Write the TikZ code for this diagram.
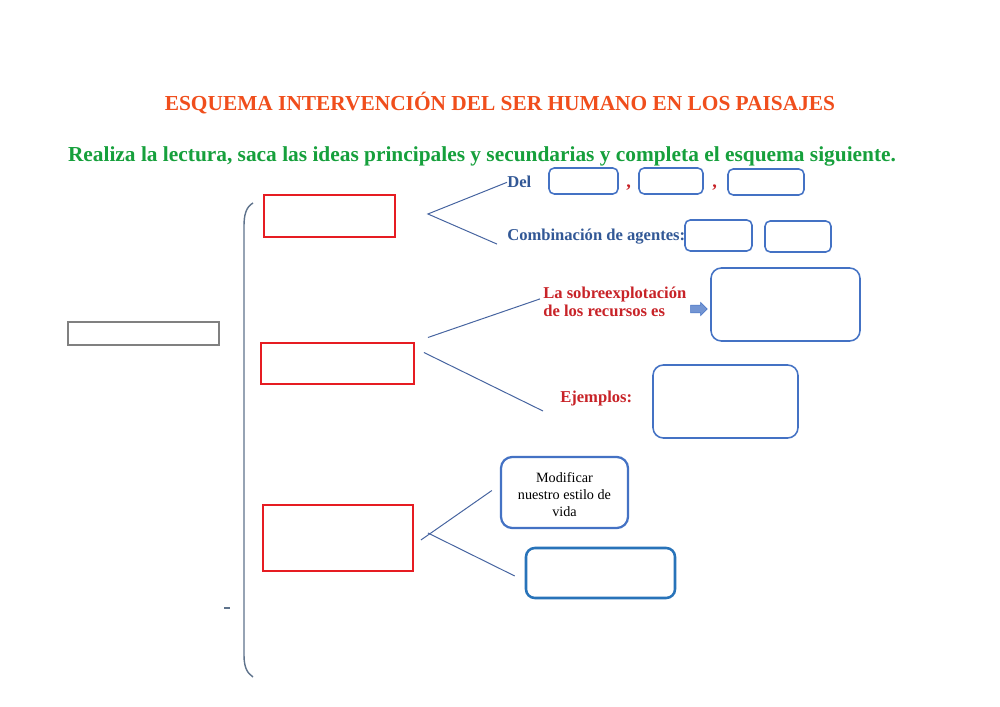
\documentclass[tikz,border=0pt]{standalone}
\usepackage{fontspec}
\setmainfont{Liberation Serif}
\usetikzlibrary{fit,calc,shapes.arrows}

\definecolor{titleorange}{RGB}{240,78,28}
\definecolor{titlegreen}{RGB}{22,160,60}
\definecolor{textblue}{RGB}{50,88,150}
\definecolor{textred}{RGB}{200,35,40}
\definecolor{boxred}{RGB}{230,28,34}
\definecolor{boxblue}{RGB}{68,114,196}
\definecolor{deepblue}{RGB}{40,115,185}
\definecolor{linkblue}{RGB}{70,100,160}
\definecolor{bracegray}{RGB}{95,115,140}

\begin{document}
\begin{tikzpicture}[x=0.25mm,y=-0.25mm,
    redbox/.style={draw=boxred, line width=1.3pt, inner sep=0pt},
    bluebox/.style={draw=boxblue, line width=1.1pt, rounded corners=1.3mm, inner sep=0pt},
    bigbox/.style={bluebox, rounded corners=2.6mm},
    link/.style={draw=linkblue, line width=0.7pt},
    lbl/.style={font=\fontsize{11.8}{13}\selectfont\bfseries, inner sep=0pt, anchor=base west}]
    \useasboundingbox[fill=white] (0,0) rectangle (1000,707);
    % Headings
    \node[anchor=base, text=titleorange, font=\fontsize{15.2}{17}\selectfont\bfseries] (title) at (500,111)
      {ESQUEMA INTERVENCIÓN DEL SER HUMANO EN LOS PAISAJES};
    \node[anchor=base, text=titlegreen, font=\fontsize{15.2}{17}\selectfont\bfseries] (task) at (482,162)
      {Realiza la lectura, saca las ideas principales y secundarias y completa el esquema siguiente.};
    % Main box and brace
    \node[draw=gray, line width=0.9pt, inner sep=0pt, fit={(68,322) (219,345)}] (main) {};
    \draw[bracegray, line width=1pt] (253,203) .. controls (246,207) and (244,215) .. (244,226)
      -- (244,655) .. controls (244,667) and (247,673) .. (253,677);
    \draw[bracegray, line width=0.9pt] (224,608) -- (230,608);
    % Red boxes
    \node[redbox, fit={(264,195) (395,237)}] (r1) {};
    \node[redbox, fit={(261,343) (414,384)}] (r2) {};
    \node[redbox, fit={(263,505) (413,571)}] (r3) {};
    % First branch
    \node[lbl, text=textblue] (del) at (507,188) {Del};
    \node[bluebox, fit={(549,168) (618,194)}] (d1) {};
    \node[bluebox, fit={(639,168) (703,194)}] (d2) {};
    \node[bluebox, fit={(728,169) (804,195)}] (d3) {};
    \node[lbl, text=textred, font=\fontsize{13}{14}\selectfont\bfseries] (c1) at (626,188) {,};
    \node[lbl, text=textred, font=\fontsize{13}{14}\selectfont\bfseries] (c2) at (712,188) {,};
    \node[lbl, text=textblue] (comb) at (507,241) {Combinación de agentes:};
    \node[bluebox, fit={(685,220) (752,251)}] (a1) {};
    \node[bluebox, fit={(765,221) (831,252)}] (a2) {};
    \coordinate (f1) at ($(r1.east)+(32,-2)$);
    \coordinate (e1) at ($(comb.west)+(-10,7)$);
    \draw[link] (del.west) -- (f1) -- (e1);
    % Second branch
    \node[lbl, text=textred, align=left, font=\fontsize{11.8}{13}\selectfont\bfseries] (sobre) at (543,317)
      {La sobreexplotación\\de los recursos es};
    \node[single arrow, draw=boxblue, fill=boxblue!75, line width=0.4pt, inner sep=0.9mm,
      minimum height=4.2mm, single arrow head extend=0.7mm] (arr) at (697,309) {};
    \node[bigbox, fit={(711,268) (860,341)}] (s1) {};
    \node[lbl, text=textred] (ejem) at (560,403) {Ejemplos:};
    \node[bigbox, fit={(653,365) (798,438)}] (ej1) {};
    \coordinate (f2a) at ($(r2.east)+(13,-26)$);
    \coordinate (f2b) at ($(r2.east)+(9,-11)$);
    \coordinate (e2) at ($(ejem.west)+(-17,12)$);
    \draw[link] (f2a) -- ($(sobre.north west)+(-3,12)$);
    \draw[link] (f2b) -- (e2);
    % Third branch
    \node[bluebox, line width=1.6pt, rounded corners=2.8mm, fit={(501,457) (628,528)}] (mod) {};
    \node[align=center, inner sep=0pt, font=\fontsize{10.1}{12.2}\selectfont] (modtext)
      at ($(mod.center)+(0,2)$) {Modificar\\nuestro estilo de\\vida};
    \node[draw=deepblue, line width=1.8pt, rounded corners=2.2mm, inner sep=0pt,
      fit={(526,548) (675,598)}] (b3) {};
    \coordinate (f3a) at ($(r3.east)+(7,2)$);
    \coordinate (f3b) at ($(r3.east)+(14,-5)$);
    \draw[link] (f3a) -- ($(mod.west)+(-8,-2)$);
    \draw[link] (f3b) -- ($(b3.west)+(-10,3)$);
\end{tikzpicture}
\end{document}
